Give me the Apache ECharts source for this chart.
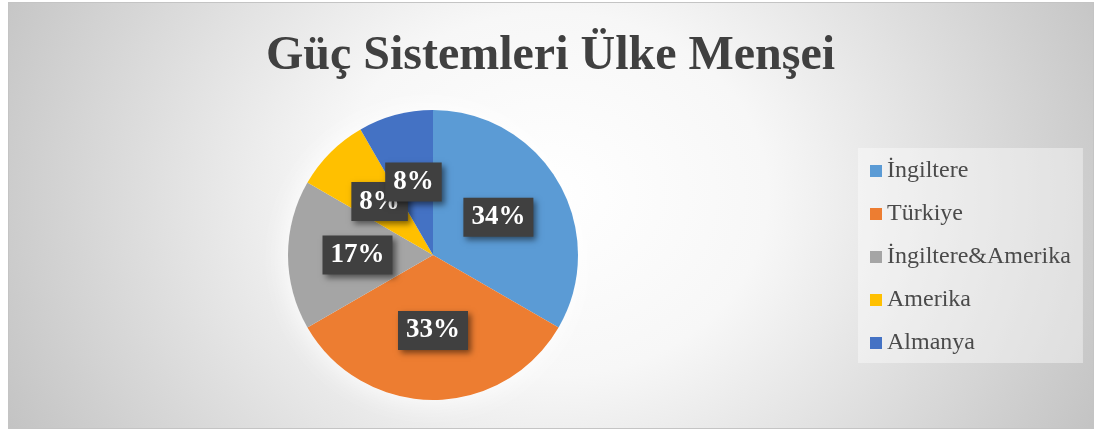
<!DOCTYPE html>
<html>
<head>
<meta charset="utf-8">
<script src="https://cdn.jsdelivr.net/npm/echarts@6/dist/echarts.min.js"></script>
<style>
  html, body { margin: 0; padding: 0; background: #ffffff; }
  #frame {
    position: absolute; left: 8px; top: 2px; width: 1084px; height: 425px;
    border: 1px solid #c4c4c4;
    background: radial-gradient(ellipse 620px 520px at 50% 45%, #ffffff 0%, #f7f7f7 35%, #c2c2c2 100%);
  }
  #chart { position: absolute; left: 0; top: 0; width: 1101px; height: 431px; }
</style>
</head>
<body>
<div id="frame"></div>
<div id="chart"></div>
<script>
const titleText = 'Güç Sistemleri Ülke Menşei';
const categories = ['İngiltere', 'Türkiye', 'İngiltere&Amerika', 'Amerika', 'Almanya'];
const values = [4, 4, 2, 1, 1];
const percentLabels = ['34%', '33%', '17%', '8%', '8%'];
const colors = ['#5B9BD5', '#ED7D31', '#A5A5A5', '#FFC000', '#4472C4'];

const chart = echarts.init(document.getElementById('chart'), null, { renderer: 'canvas' });
const serif = "'Liberation Serif', 'Times New Roman', serif";

chart.setOption({
  backgroundColor: 'transparent',
  animation: false,
  title: {
    text: titleText,
    left: 'center',
    top: 33,
    padding: 0,
    textStyle: { fontFamily: serif, fontWeight: 'bold', fontSize: 48, color: '#404040', lineHeight: 48 }
  },
  legend: {
    orient: 'vertical',
    left: 858,
    top: 148,
    data: categories,
    icon: 'rect',
    itemWidth: 12,
    itemHeight: 12,
    itemGap: 19,
    padding: [11, 12, 8, 12],
    backgroundColor: 'rgba(255,255,255,0.4)',
    selectedMode: false,
    textStyle: { fontFamily: serif, fontSize: 24, lineHeight: 24, color: '#4a4a4a' }
  },
  series: [
    {
      type: 'pie',
      silent: true,
      center: [433, 255],
      radius: 145,
      z: 1,
      label: { show: false },
      labelLine: { show: false },
      itemStyle: { color: '#ffffff', shadowColor: 'rgba(255,255,255,1)', shadowBlur: 30 },
      data: [{ value: 1, name: '_bg' }]
    },
    {
      type: 'pie',
      center: [433, 255],
      radius: 145,
      startAngle: 90,
      clockwise: true,
      z: 2,
      avoidLabelOverlap: false,
      labelLayout: { hideOverlap: false },
      emphasis: { disabled: true },
      itemStyle: { borderWidth: 0 },
      label: {
        show: true,
        position: 'inside',
        formatter: (p) => percentLabels[p.dataIndex],
        fontFamily: serif,
        fontWeight: 'bold',
        fontSize: 27,
        lineHeight: 26,
        color: '#ffffff',
        backgroundColor: '#404040',
        padding: [7, 8, 6, 8],
        shadowColor: 'rgba(0,0,0,0.5)',
        shadowBlur: 6,
        shadowOffsetX: 3,
        shadowOffsetY: 3
      },
      labelLine: { show: false },
      data: categories.map((c, i) => ({ name: c, value: values[i], itemStyle: { color: colors[i] } }))
    }
  ]
});
</script>
</body>
</html>
